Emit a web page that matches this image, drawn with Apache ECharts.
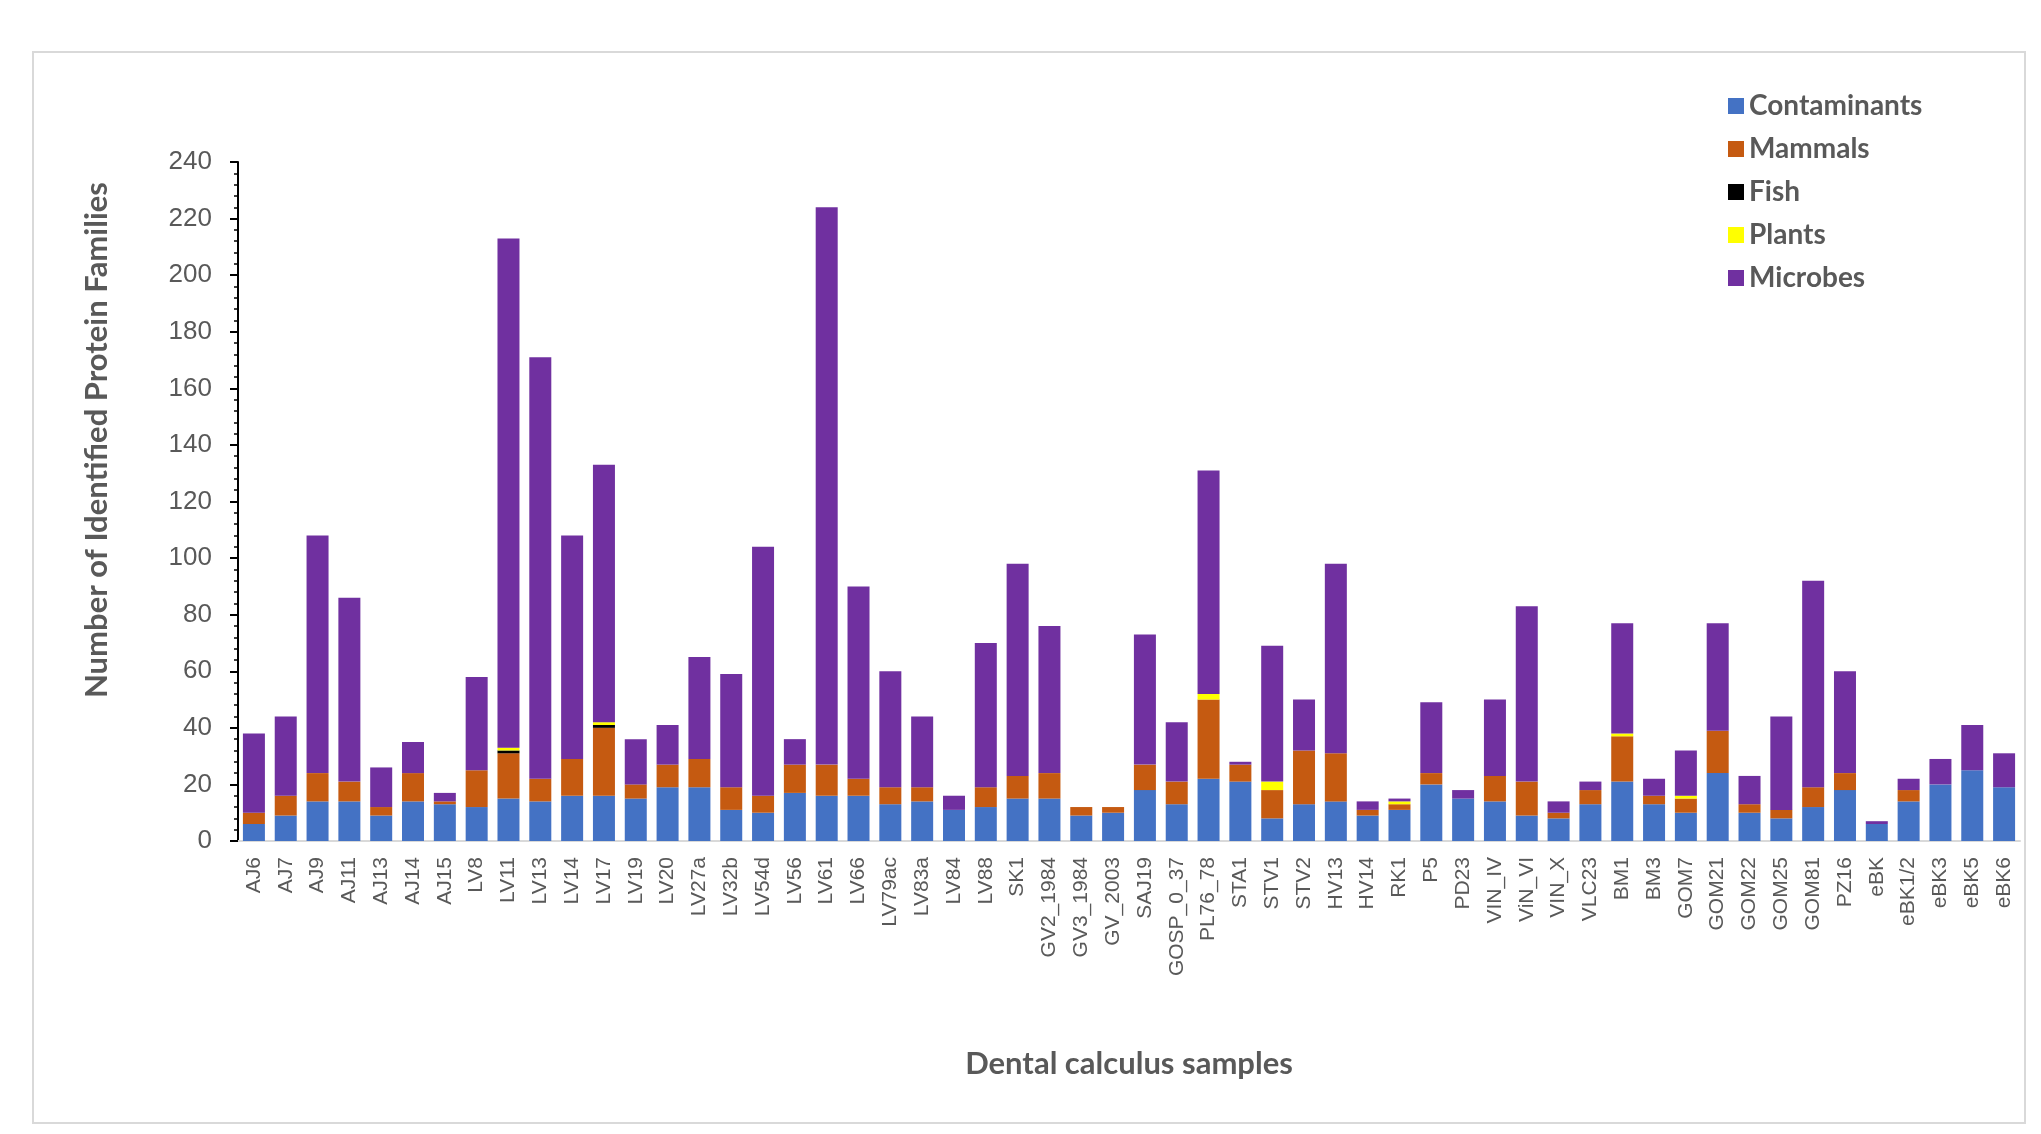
<!DOCTYPE html>
<html>
<head>
<meta charset="utf-8">
<title>Dental calculus samples</title>
<script src="https://cdn.jsdelivr.net/npm/echarts@6/dist/echarts.min.js"></script>
<style>
  html, body { margin: 0; padding: 0; background: #fff; }
  #chart { width: 2041px; height: 1134px; }
</style>
</head>
<body>
<div id="chart"></div>
<script>
// sample names along the x axis
var samples = ['AJ6', 'AJ7', 'AJ9', 'AJ11', 'AJ13', 'AJ14', 'AJ15', 'LV8', 'LV11', 'LV13',
    'LV14', 'LV17', 'LV19', 'LV20', 'LV27a', 'LV32b', 'LV54d', 'LV56', 'LV61', 'LV66',
    'LV79ac', 'LV83a', 'LV84', 'LV88', 'SK1', 'GV2_1984', 'GV3_1984', 'GV_2003', 'SAJ19', 'GOSP_0_37',
    'PL76_78', 'STA1', 'STV1', 'STV2', 'HV13', 'HV14', 'RK1', 'P5', 'PD23', 'VIN_IV',
    'ViN_VI', 'VIN_X', 'VLC23', 'BM1', 'BM3', 'GOM7', 'GOM21', 'GOM22', 'GOM25', 'GOM81',
    'PZ16', 'eBK', 'eBK1/2', 'eBK3', 'eBK5', 'eBK6'];

// protein family counts per source
var contaminants = [6, 9, 14, 14, 9, 14, 13, 12, 15, 14,
    16, 16, 15, 19, 19, 11, 10, 17, 16, 16,
    13, 14, 11, 12, 15, 15, 9, 10, 18, 13,
    22, 21, 8, 13, 14, 9, 11, 20, 15, 14,
    9, 8, 13, 21, 13, 10, 24, 10, 8, 12,
    18, 6, 14, 20, 25, 19];
var mammals = [4, 7, 10, 7, 3, 10, 1, 13, 16, 8,
    13, 24, 5, 8, 10, 8, 6, 10, 11, 6,
    6, 5, 0, 7, 8, 9, 3, 2, 9, 8,
    28, 6, 10, 19, 17, 2, 2, 4, 0, 9,
    12, 2, 5, 16, 3, 5, 15, 3, 3, 7,
    6, 0, 4, 0, 0, 0];
var fish = [0, 0, 0, 0, 0, 0, 0, 0, 1, 0,
    0, 1, 0, 0, 0, 0, 0, 0, 0, 0,
    0, 0, 0, 0, 0, 0, 0, 0, 0, 0,
    0, 0, 0, 0, 0, 0, 0, 0, 0, 0,
    0, 0, 0, 0, 0, 0, 0, 0, 0, 0,
    0, 0, 0, 0, 0, 0];
var plants = [0, 0, 0, 0, 0, 0, 0, 0, 1, 0,
    0, 1, 0, 0, 0, 0, 0, 0, 0, 0,
    0, 0, 0, 0, 0, 0, 0, 0, 0, 0,
    2, 0, 3, 0, 0, 0, 1, 0, 0, 0,
    0, 0, 0, 1, 0, 1, 0, 0, 0, 0,
    0, 0, 0, 0, 0, 0];
var microbes = [28, 28, 84, 65, 14, 11, 3, 33, 180, 149,
    79, 91, 16, 14, 36, 40, 88, 9, 197, 68,
    41, 25, 5, 51, 75, 52, 0, 0, 46, 21,
    79, 1, 48, 18, 67, 3, 1, 25, 3, 27,
    62, 4, 3, 39, 6, 16, 38, 10, 33, 73,
    36, 1, 4, 9, 16, 12];

var yTicks = [0, 240, 20];   // min, max, interval

var myChart = echarts.init(document.getElementById('chart'));

var grey = '#595959';
var titleFont = 'Lato, "Open Sans", sans-serif';

function barSeries(name, color, data) {
    return {
        name: name,
        type: 'bar',
        stack: 'total',
        barWidth: 22,
        itemStyle: {color: color},
        data: data
    };
}

var option = {
    backgroundColor: '#ffffff',
    animation: false,
    grid: {left: 238, right: 21, top: 162, bottom: 293},
    legend: {
        orient: 'vertical',
        left: 1723,
        top: 87,
        itemWidth: 16,
        itemHeight: 16,
        itemGap: 15,
        icon: 'rect',
        textStyle: {
            color: grey,
            fontFamily: titleFont,
            fontWeight: 'bold',
            fontSize: 28,
            lineHeight: 28
        },
        data: ['Contaminants', 'Mammals', 'Fish', 'Plants', 'Microbes']
    },
    xAxis: {
        type: 'category',
        data: samples,
        name: 'Dental calculus samples',
        nameLocation: 'middle',
        nameGap: 207,
        nameTextStyle: {
            color: grey,
            fontFamily: titleFont,
            fontWeight: 'bold',
            fontSize: 31
        },
        axisLine: {lineStyle: {color: '#D9D9D9', width: 2}},
        axisTick: {show: false},
        axisLabel: {
            rotate: 90,
            interval: 0,
            margin: 16,
            color: grey,
            fontFamily: '"Liberation Sans", Arial, sans-serif',
            fontSize: 21
        }
    },
    yAxis: {
        type: 'value',
        min: yTicks[0],
        max: yTicks[1],
        interval: yTicks[2],
        splitLine: {show: false},
        axisLine: {show: true, lineStyle: {color: '#000', width: 2}},
        axisTick: {show: true, length: 8, lineStyle: {color: '#000', width: 2}},
        minorTick: {show: true, splitNumber: 5, length: 4, lineStyle: {color: '#000', width: 1.5}},
        axisLabel: {
            margin: 26,
            color: grey,
            fontFamily: '"Liberation Sans", Arial, sans-serif',
            fontSize: 26
        }
    },
    graphic: [
        {
            type: 'rect',
            shape: {x: 33, y: 52, width: 1992, height: 1071},
            style: {fill: 'none', stroke: '#D9D9D9', lineWidth: 2},
            silent: true
        },
        {
            type: 'text',
            x: 97,
            y: 440,
            rotation: Math.PI / 2,
            style: {
                text: 'Number of Identified Protein Families',
                fill: grey,
                font: 'bold 31px ' + titleFont,
                textAlign: 'center',
                textVerticalAlign: 'middle'
            },
            silent: true
        }
    ],
    series: [
        barSeries('Contaminants', '#4472C4', contaminants),
        barSeries('Mammals', '#C55A11', mammals),
        barSeries('Fish', '#000000', fish),
        barSeries('Plants', '#FFFF00', plants),
        barSeries('Microbes', '#7030A0', microbes)
    ]
};

myChart.setOption(option);
</script>
</body>
</html>
